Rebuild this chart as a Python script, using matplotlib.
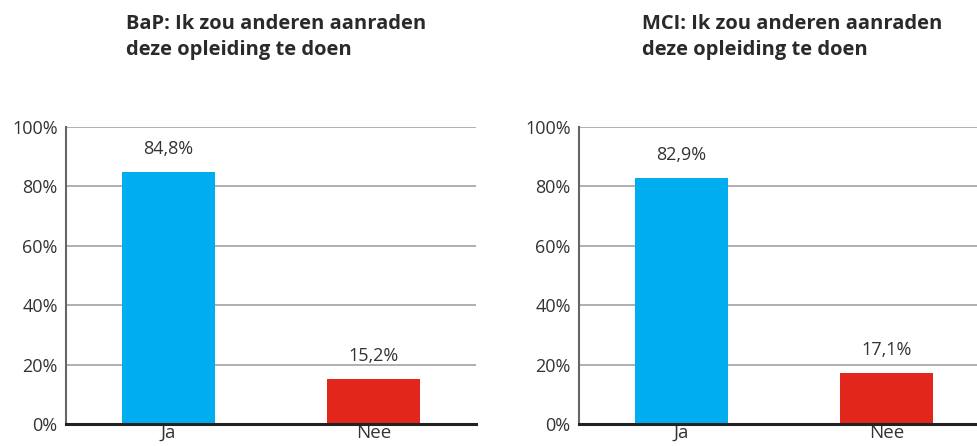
import matplotlib
matplotlib.use("Agg")
import matplotlib.pyplot as plt

categories = ["Ja", "Nee"]
bap_values = [84.8, 15.2]
mci_values = [82.9, 17.1]
titles = ["BaP: Ik zou anderen aanraden\ndeze opleiding te doen",
          "MCI: Ik zou anderen aanraden\ndeze opleiding te doen"]
yticks = [0, 20, 40, 60, 80, 100]
ytick_labels = ["0%", "20%", "40%", "60%", "80%", "100%"]
colors = ["#00AEEF", "#E3261C"]

plt.rcParams['font.family'] = ['Open Sans', 'DejaVu Sans']
W, H = 977, 446
fig = plt.figure(figsize=(W / 100, H / 100), dpi=100)

panels = [(66, bap_values, titles[0], 126), (579, mci_values, titles[1], 642)]
for left_px, vals, title, title_x in panels:
    ax = fig.add_axes([left_px / W, (H - 424) / H, 410 / W, 297 / H])
    x = list(range(len(categories)))
    ax.bar(x, vals, width=0.455, color=colors, zorder=3)
    ax.set_xlim(-0.5, 1.5)
    ax.set_ylim(0, 100)
    ax.set_yticks(yticks)
    ax.set_yticklabels(ytick_labels, fontsize=13, color="#333333")
    ax.set_xticks(x)
    ax.set_xticklabels(categories, fontsize=13.5, color="#333333")
    ax.tick_params(axis="y", length=0, pad=6)
    ax.tick_params(axis="x", length=0, pad=0)
    ax.yaxis.grid(True, color="#9a9a9a", linewidth=1.1, zorder=0)
    ax.set_axisbelow(True)
    for s in ["top", "right"]:
        ax.spines[s].set_visible(False)
    ax.spines["left"].set_color("#666666")
    ax.spines["left"].set_linewidth(1.5)
    ax.spines["bottom"].set_color("#222222")
    ax.spines["bottom"].set_linewidth(2.2)
    ax.spines["bottom"].set_zorder(4)
    for xi, v in zip(x, vals):
        ax.annotate(f"{v:.1f}%".replace(".", ","), (xi, v), xytext=(0, 10),
                    textcoords="offset points", ha="center", va="bottom",
                    fontsize=13, color="#333333")
    fig.text(title_x / W, 1 - 14 / H, title, ha="left", va="top",
             fontsize=14.5, fontweight="bold", color="#2a2a2a", linespacing=1.38)

fig.savefig("out.png", dpi=100)
